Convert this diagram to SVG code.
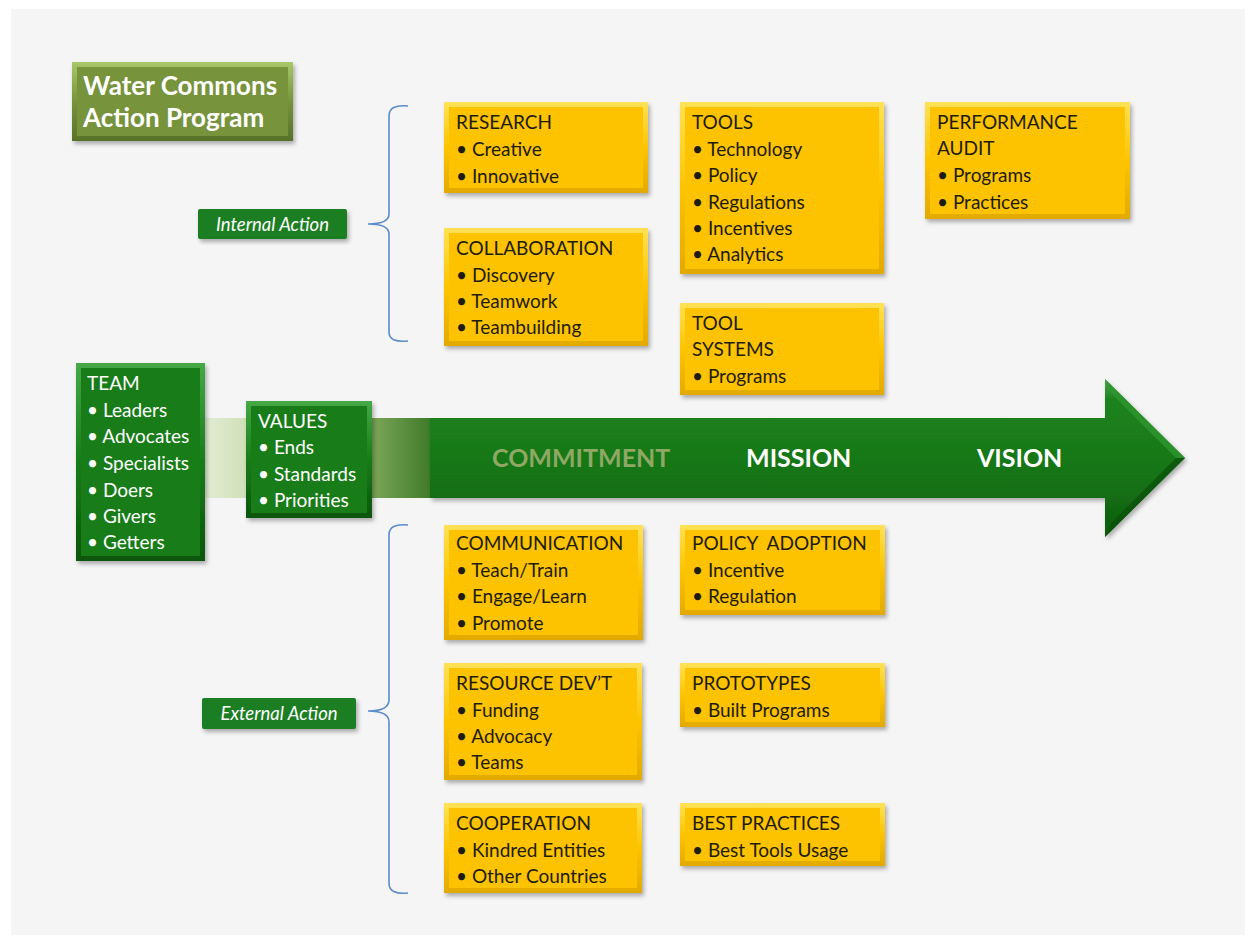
<svg xmlns="http://www.w3.org/2000/svg" width="1254" height="943" viewBox="0 0 1254 943">
<defs>
<style>
.t{font-family:Lato,"Liberation Sans",sans-serif;font-size:19px;fill:#1c1c10}
.w{font-family:Lato,"Liberation Sans",sans-serif;font-size:19px;fill:#ffffff}
.ttl{font-family:Lato,"Liberation Sans",sans-serif;font-size:26px;font-weight:bold;fill:#ffffff}
.lab{font-family:Lato,"Liberation Sans",sans-serif;font-size:18.5px;font-style:italic;fill:#ffffff}
.big{font-family:Lato,"Liberation Sans",sans-serif;font-size:25px;font-weight:bold}
.ybo{fill:url(#yOut)}
.yin{fill:#fdc200}
.gbo{fill:url(#gOut)}
.gin{fill:#187c18}
.brace{fill:none;stroke:#5b8ccc;stroke-width:1.6}
</style>
<linearGradient id="yOut" x1="0" y1="0" x2="0" y2="1">
<stop offset="0" stop-color="#ffe257"/><stop offset="0.5" stop-color="#fcc400"/><stop offset="1" stop-color="#e2aa00"/>
</linearGradient>
<linearGradient id="gOut" x1="0" y1="0" x2="0" y2="1">
<stop offset="0" stop-color="#46a846"/><stop offset="0.5" stop-color="#187c18"/><stop offset="1" stop-color="#0b560b"/>
</linearGradient>
<linearGradient id="oOut" x1="0" y1="0" x2="0" y2="1">
<stop offset="0" stop-color="#a9c86a"/><stop offset="0.5" stop-color="#77933c"/><stop offset="1" stop-color="#58712a"/>
</linearGradient>
<linearGradient id="band" x1="0" y1="0" x2="1" y2="0">
<stop offset="0" stop-color="#e2ecd4"/><stop offset="0.25" stop-color="#c9dcae"/><stop offset="0.7" stop-color="#86ad5e"/><stop offset="1" stop-color="#3f7a2a"/>
</linearGradient>
<linearGradient id="arrowG" x1="0" y1="0" x2="0" y2="1">
<stop offset="0" stop-color="#4aa84a"/><stop offset="0.12" stop-color="#1f831f"/><stop offset="0.6" stop-color="#157515"/><stop offset="1" stop-color="#0e5e0e"/>
</linearGradient>
<filter id="sh" x="-10%" y="-10%" width="130%" height="130%">
<feDropShadow dx="2" dy="3" stdDeviation="2" flood-color="#000" flood-opacity="0.3"/>
</filter>
</defs>

<rect x="0" y="0" width="1254" height="943" fill="#ffffff"/>
<rect x="11" y="9" width="1234" height="926" fill="#f5f5f5"/>

<g id="band-connector">
<rect x="205" y="418" width="226" height="80" fill="url(#band)"/>
</g>

<g id="arrow">
<path d="M430,418 L1105,418 L1105,379 L1185,458 L1105,537 L1105,498 L430,498 Z" fill="url(#arrowG)" filter="url(#sh)"/>
<path d="M1105,379 L1185,458 L1176,458 L1111,393 Z" fill="#2f962f" opacity="0.8"/>
<path d="M1185,458 L1105,537 L1111,523 L1176,458 Z" fill="#0a4f0a" opacity="0.7"/>
<text class="big" x="492" y="467" fill="#8fa865">COMMITMENT</text>
<text class="big" x="746" y="467" fill="#ffffff">MISSION</text>
<text class="big" x="977" y="467" fill="#ffffff">VISION</text>
</g>

<g id="title">
<rect x="72" y="62" width="221" height="79" fill="url(#oOut)" filter="url(#sh)"/>
<rect x="77" y="67" width="211" height="69" fill="#77933c"/>
<text class="ttl" x="83" y="95">Water Commons</text>
<text class="ttl" x="83" y="127">Action Program</text>
</g>

<g id="connectors">
<path class="brace" d="M408,106 Q389,104 389,116 L389,214 Q389,224 368,224 Q389,224 389,234 L389,332 Q389,343 408,341"/>
<path class="brace" d="M408,525 Q389,523 389,535 L389,700 Q389,711 368,711 Q389,711 389,722 L389,883 Q389,895 408,893"/>
</g>

<g id="internal-action">
<rect x="198" y="209" width="149" height="30" rx="2" fill="#1e7e24" filter="url(#sh)"/>
<text class="lab" x="272.5" y="230.5" text-anchor="middle">Internal Action</text>
</g>
<g id="external-action">
<rect x="202" y="698" width="154" height="31" rx="2" fill="#1e7e24" filter="url(#sh)"/>
<text class="lab" x="279" y="719.5" text-anchor="middle">External Action</text>
</g>

<g id="team">
<rect x="76" y="363" width="129" height="198" class="gbo" filter="url(#sh)"/>
<rect x="81" y="368" width="119" height="188" class="gin"/>
<text class="w" x="87" y="390">TEAM</text>
<text class="w" x="87" y="417">• Leaders</text>
<text class="w" x="87" y="443">• Advocates</text>
<text class="w" x="87" y="470">• Specialists</text>
<text class="w" x="87" y="497">• Doers</text>
<text class="w" x="87" y="523">• Givers</text>
<text class="w" x="87" y="549">• Getters</text>
</g>

<g id="values">
<rect x="246" y="401" width="126" height="117" class="gbo" filter="url(#sh)"/>
<rect x="251" y="406" width="116" height="107" class="gin"/>
<text class="w" x="258" y="428">VALUES</text>
<text class="w" x="258" y="454">• Ends</text>
<text class="w" x="258" y="481">• Standards</text>
<text class="w" x="258" y="507">• Priorities</text>
</g>

<g id="research">
<rect x="444" y="102" width="204" height="91" class="ybo" filter="url(#sh)"/>
<rect x="449" y="107" width="194" height="81" class="yin"/>
<text class="t" x="456" y="129">RESEARCH</text>
<text class="t" x="456" y="156">• Creative</text>
<text class="t" x="456" y="183">• Innovative</text>
</g>

<g id="collaboration">
<rect x="444" y="228" width="204" height="118" class="ybo" filter="url(#sh)"/>
<rect x="449" y="233" width="194" height="108" class="yin"/>
<text class="t" x="456" y="255">COLLABORATION</text>
<text class="t" x="456" y="282">• Discovery</text>
<text class="t" x="456" y="308">• Teamwork</text>
<text class="t" x="456" y="334">• Teambuilding</text>
</g>

<g id="tools">
<rect x="680" y="102" width="204" height="172" class="ybo" filter="url(#sh)"/>
<rect x="685" y="107" width="194" height="162" class="yin"/>
<text class="t" x="692" y="129">TOOLS</text>
<text class="t" x="692" y="156">• Technology</text>
<text class="t" x="692" y="182">• Policy</text>
<text class="t" x="692" y="209">• Regulations</text>
<text class="t" x="692" y="235">• Incentives</text>
<text class="t" x="692" y="261">• Analytics</text>
</g>

<g id="tool-systems">
<rect x="680" y="303" width="204" height="92" class="ybo" filter="url(#sh)"/>
<rect x="685" y="308" width="194" height="82" class="yin"/>
<text class="t" x="692" y="330">TOOL</text>
<text class="t" x="692" y="356">SYSTEMS</text>
<text class="t" x="692" y="383">• Programs</text>
</g>

<g id="performance-audit">
<rect x="925" y="102" width="205" height="117" class="ybo" filter="url(#sh)"/>
<rect x="930" y="107" width="195" height="107" class="yin"/>
<text class="t" x="937" y="129">PERFORMANCE</text>
<text class="t" x="937" y="155">AUDIT</text>
<text class="t" x="937" y="182">• Programs</text>
<text class="t" x="937" y="209">• Practices</text>
</g>

<g id="communication">
<rect x="444" y="525" width="199" height="115" class="ybo" filter="url(#sh)"/>
<rect x="449" y="530" width="189" height="105" class="yin"/>
<text class="t" x="456" y="550">COMMUNICATION</text>
<text class="t" x="456" y="577">• Teach/Train</text>
<text class="t" x="456" y="603">• Engage/Learn</text>
<text class="t" x="456" y="630">• Promote</text>
</g>

<g id="policy-adoption">
<rect x="680" y="525" width="205" height="90" class="ybo" filter="url(#sh)"/>
<rect x="685" y="530" width="195" height="80" class="yin"/>
<text class="t" x="692" y="550">POLICY&#160; ADOPTION</text>
<text class="t" x="692" y="577">• Incentive</text>
<text class="t" x="692" y="603">• Regulation</text>
</g>

<g id="resource-devt">
<rect x="444" y="663" width="198" height="117" class="ybo" filter="url(#sh)"/>
<rect x="449" y="668" width="188" height="107" class="yin"/>
<text class="t" x="456" y="690">RESOURCE DEV’T</text>
<text class="t" x="456" y="717">• Funding</text>
<text class="t" x="456" y="743">• Advocacy</text>
<text class="t" x="456" y="769">• Teams</text>
</g>

<g id="prototypes">
<rect x="680" y="663" width="205" height="64" class="ybo" filter="url(#sh)"/>
<rect x="685" y="668" width="195" height="54" class="yin"/>
<text class="t" x="692" y="690">PROTOTYPES</text>
<text class="t" x="692" y="717">• Built Programs</text>
</g>

<g id="cooperation">
<rect x="444" y="803" width="198" height="90" class="ybo" filter="url(#sh)"/>
<rect x="449" y="808" width="188" height="80" class="yin"/>
<text class="t" x="456" y="830">COOPERATION</text>
<text class="t" x="456" y="857">• Kindred Entities</text>
<text class="t" x="456" y="883">• Other Countries</text>
</g>

<g id="best-practices">
<rect x="680" y="803" width="205" height="63" class="ybo" filter="url(#sh)"/>
<rect x="685" y="808" width="195" height="53" class="yin"/>
<text class="t" x="692" y="830">BEST PRACTICES</text>
<text class="t" x="692" y="857">• Best Tools Usage</text>
</g>
</svg>
